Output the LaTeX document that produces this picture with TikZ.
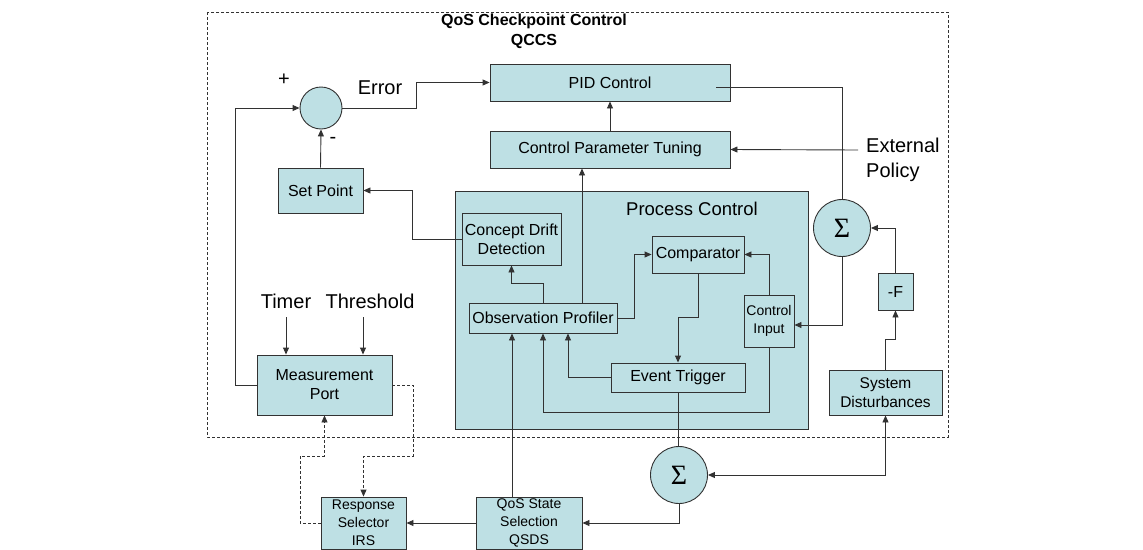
\documentclass[tikz,border=0pt]{standalone}
\usepackage{fontspec}
\setmainfont{Liberation Sans}
\newfontfamily\sigmafont{Liberation Serif}
\usetikzlibrary{arrows.meta,calc}
\definecolor{boxfill}{RGB}{190,224,228}
\definecolor{edge}{RGB}{50,50,50}
\begin{document}
\begin{tikzpicture}[x=1pt,y=-1pt,
  box/.style={draw=edge, fill=boxfill, line width=0.9pt, inner sep=0pt, align=center, font=\fontsize{16}{19}\selectfont},
  sbox/.style={box, font=\fontsize{14}{18}\selectfont},
  sumnode/.style={circle, draw=edge, fill=boxfill, line width=0.9pt, inner sep=0pt, minimum size=57pt, font=\sigmafont\fontsize{28}{28}\selectfont},
  conn/.style={draw=edge, line width=0.9pt},
  arr/.style={conn, -{Triangle[length=7pt,width=6pt]}},
  darr/.style={arr, dash pattern=on 3pt off 2pt},
  lbl/.style={font=\fontsize{20}{25}\selectfont, inner sep=0pt, align=left},
  ttl/.style={font=\bfseries\fontsize{16}{20}\selectfont, inner sep=0pt}]
\useasboundingbox (0,0) rectangle (1143,549);
% outer dashed frame
\draw[draw=edge, line width=0.9pt, dash pattern=on 3pt off 2pt] (207,12) rectangle (948,437);
\node[ttl] (t1) at (534,21) {QoS Checkpoint Control};
\node[ttl] (t2) at (534,41) {QCCS};
% process control container
\node[box, minimum width=353pt, minimum height=238pt] (pc) at (631.5,310) {};
\node[font=\fontsize{18.5}{22}\selectfont, inner sep=0pt] (pct) at (692,209) {Process Control};
% boxes
\node[box, minimum width=240pt, minimum height=37pt] (pid) at (610,82.5) {PID Control};
\node[box, minimum width=240pt, minimum height=37pt] (cpt) at (610,149.5) {Control Parameter Tuning};
\node[box, minimum width=85pt, minimum height=45pt] (sp) at (320.5,190.5) {Set Point};
\node[circle, draw=edge, fill=boxfill, line width=0.9pt, inner sep=0pt, minimum size=42pt] (circ) at (321,108) {};
\node[box, minimum width=99pt, minimum height=52pt] (cdd) at (511.5,239) {Concept Drift\\Detection};
\node[box, minimum width=148pt, minimum height=30pt] (op) at (543,318) {Observation Profiler};
\node[box, minimum width=92pt, minimum height=37pt] (comp) at (698,254.5) {Comparator};
\node[box, minimum width=134pt, minimum height=29pt] (et) at (678,377.5) {Event Trigger};
\node[sbox, minimum width=50pt, minimum height=52pt] (ci) at (769,321) {Control\\Input};
\node[sumnode] (sigr) at (842,228) {Σ};
\node[box, minimum width=35pt, minimum height=37pt] (negf) at (895.5,291.5) {-F};
\node[box, font=\fontsize{15.5}{19}\selectfont, minimum width=113pt, minimum height=45pt] (sd) at (885.5,392.5) {System\\Disturbances};
\node[box, minimum width=135pt, minimum height=60pt] (mp) at (324.5,385) {Measurement\\Port};
\node[sumnode] (sigb) at (679,475) {Σ};
\node[sbox, minimum width=106pt, minimum height=52pt] (qsds) at (529,523) {QoS State\\Selection\\QSDS};
\node[sbox, minimum width=85pt, minimum height=52pt] (rs) at (363.5,523) {Response\\Selector\\IRS};
% labels
\node[lbl] (plus) at (284,80) {+};
\node[lbl] (minus) at (333,140) {-};
\node[lbl] (err) at (380,88) {Error};
\node[lbl, anchor=west] (ext) at (866,160) {External\\Policy};
\node[lbl] (tm) at (286,301) {Timer};
\node[lbl] (th) at (370,301) {Threshold};
\coordinate (extin) at (858,150);
\coordinate (pidout) at (716,87);
\coordinate (x512) at (512,0);
\coordinate (x582) at (582,0);
\coordinate (x363) at (363,0);
% connectors
\draw[arr] (mp.west) -- ++(-21,0) |- (circ.west);
\draw[arr] (sp.north) -- (circ.south);
\draw[arr] (circ.east) -- (416,108) |- (pid.west);
\draw[arr] (cpt.north) -- (pid.south);
\draw[arr] (extin) -- (cpt.east);
\draw[conn] (pidout) -| (sigr.north);
\draw[arr] (sigr.south) |- ([yshift=-4pt]ci.east);
\draw[arr] (negf.north) |- (sigr.east);
\draw[arr] (sd.north) -- ++(0,-30) -| (negf.south);
\draw[conn, {Triangle[length=7pt,width=6pt]}-{Triangle[length=7pt,width=6pt]}] (sigb.east) -| (sd.south);
\draw[conn] (et.south) -- (et.south |- sigb.north);
\draw[arr] (sigb.south) |- (qsds.east);
\draw[arr] (qsds.west) -- (rs.east);
\draw[arr] (qsds.north -| x512) -- (op.south -| x512);
\draw[darr] (rs.west) -| (300,456) -| (mp.south);
\draw[darr] (mp.east) -| (413,456) -| (rs.north);
\draw[arr] (286,317) -- (mp.north -| tm.south);
\draw[arr] (363,317) -- (mp.north -| x363);
\draw[arr] (cdd.west) -- ++(-49,0) |- (sp.east);
\draw[arr] (op.north -| x582) -- (cpt.south -| x582);
\draw[arr] (op.north) -- ++(0,-19) -| (cdd.south);
\draw[arr] (op.east) -- ++(17,0) |- (comp.west);
\draw[arr] (comp.south) -- ++(0,44) -| (et.north);
\draw[arr] (et.west) -| ([xshift=25pt]op.south);
\draw[arr] (ci.north) |- (comp.east);
\draw[arr] (ci.south) -- ++(0,65) -| (op.south);
\end{tikzpicture}
\end{document}
